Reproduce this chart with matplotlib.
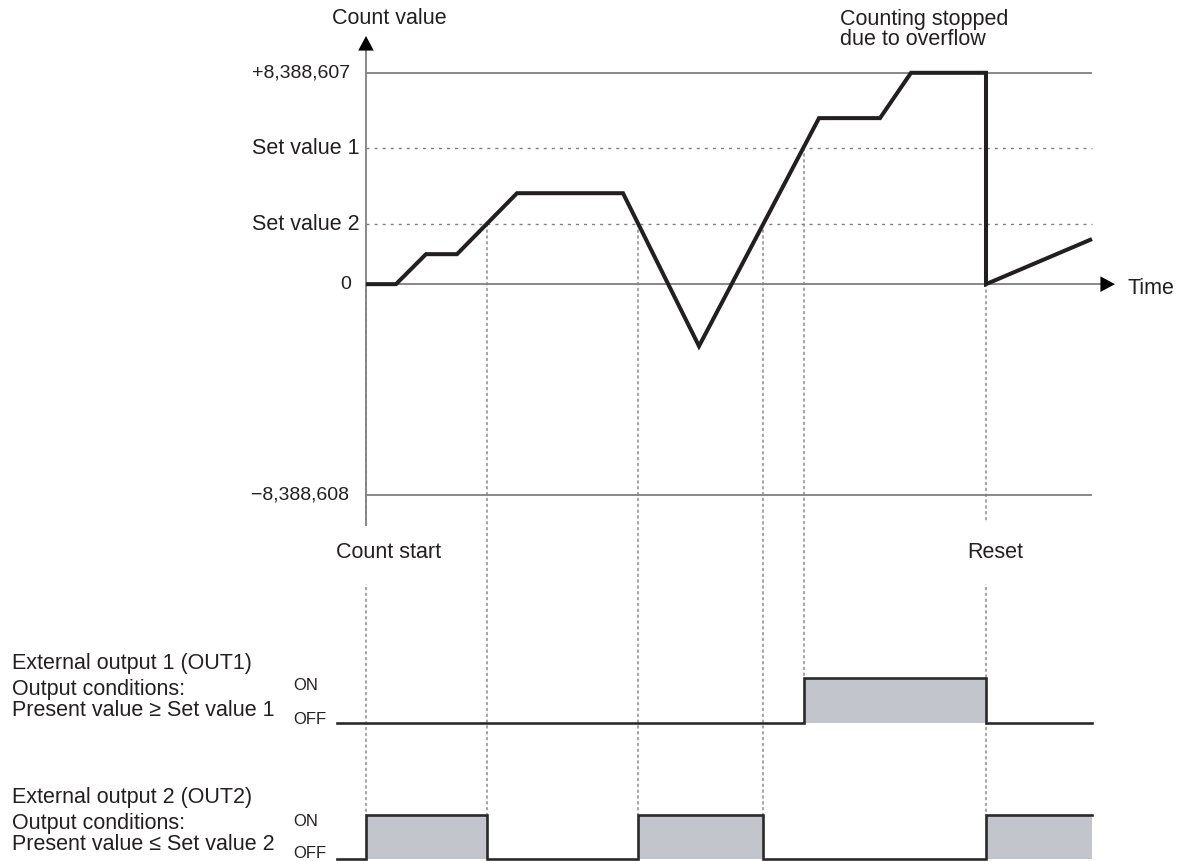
import matplotlib
matplotlib.use("Agg")
import matplotlib.pyplot as plt
from matplotlib.patches import ConnectionPatch

plt.rcParams['font.family'] = ['Liberation Sans', 'DejaVu Sans']
plt.rcParams['lines.scale_dashes'] = False

# ---------------- data ----------------
COUNT_MAX = 8388607
COUNT_MIN = -8388608
SET_VALUE_1 = 5400000
SET_VALUE_2 = 2380000

# count curve (time in arbitrary units, count value)
curve_t = [0, 30, 60, 91, 151, 257, 333, 453, 514, 545, 620, 620, 726]
curve_v = [0, 0, 1190000, 1190000, 3610000, 3610000, -2460000, 6590000,
           6590000, COUNT_MAX, COUNT_MAX, 0, 1790000]

# outputs (steps-post)
out1_t = [-29, 438, 620, 726]
out1_s = [0, 1, 0, 0]
out2_t = [-29, 0, 121, 272, 397, 620, 726]
out2_s = [0, 1, 0, 1, 0, 1, 1]

# event markers: time, top count value, panel where it ends
event_t = [0, 121, 272, 397, 438, 620]
event_top = [0, SET_VALUE_2, SET_VALUE_2, SET_VALUE_2, SET_VALUE_1, 0]
event_panel = [2, 2, 2, 2, 1, 2]

tick_values = [COUNT_MAX, SET_VALUE_1, SET_VALUE_2, 0, COUNT_MIN]
tick_labels = ['+8,388,607', 'Set value 1', 'Set value 2', '0', '\u22128,388,608']
tick_sizes = [14, 15.5, 15.5, 14, 14]
tick_offsets = [-16, -6, -6, -15, -17]

T_END = 726
T_ARROW = 749
T_LEFT = -29

# ---------------- style ----------------
W, H = 1187, 861
TXT = '#231f20'
CURVE = '#231f20'
GRID = '#808080'
FILL = '#c3c5cc'
STEP = '#2a2a2a'
FS = 15.5


def box(l, t, r, b):
    return [l / W, 1 - b / H, (r - l) / W, (b - t) / H]


def fx(x):
    return x / W


def fy(y):
    return 1 - y / H


fig = plt.figure(figsize=(W / 100, H / 100), dpi=100)
fig.patch.set_facecolor('white')

# main axes
ax = fig.add_axes(box(337, 36, 1115, 526))
ax.set_xlim(T_LEFT, T_ARROW)
ax.set_ylim(-9.6e6, 9.85e6)
ax.axis('off')
ax.set_zorder(2)
ax.patch.set_visible(False)

ARROW = dict(arrowstyle='-|>,head_length=0.75,head_width=0.4',
             color='black', lw=0, shrinkA=0, shrinkB=0, mutation_scale=14)

# y axis line + arrow
ax.plot([0, 0], [-9.6e6, 9.4e6], color=GRID, lw=1.3, solid_capstyle='butt')
ax.annotate('', xy=(0, 1), xycoords=('data', 'axes fraction'),
            xytext=(0, -30), textcoords='offset pixels', arrowprops=ARROW)
# time axis line + arrow
ax.plot([0, T_ARROW - 10], [0, 0], color=GRID, lw=1.3, clip_on=False,
        solid_capstyle='butt')
ax.annotate('', xy=(1, 0), xycoords=('axes fraction', 'data'),
            xytext=(-30, 0), textcoords='offset pixels', arrowprops=ARROW)

# limit lines
ax.hlines([COUNT_MAX, COUNT_MIN], 0, T_END, color=GRID, lw=1.3)
ax.hlines([SET_VALUE_1, SET_VALUE_2], 0, T_END, color=GRID, lw=1.0,
          linestyles=[(0, (2.2, 3.6))])

# curve
ax.plot(curve_t, curve_v, color=CURVE, lw=2.9, solid_joinstyle='miter',
        solid_capstyle='butt', zorder=5)

# tick labels
for v, lab, s, off in zip(tick_values, tick_labels, tick_sizes, tick_offsets):
    ax.annotate(lab, xy=(0, v), xycoords='data', xytext=(off, 0),
                textcoords='offset pixels', ha='right', va='center',
                fontsize=s, color=TXT)

# output panels
ax1 = fig.add_axes(box(337, 669, 1115, 732))
ax2 = fig.add_axes(box(337, 806.2, 1115, 860.8))
ax1.set_ylim(-0.2, 1.2)
ax2.set_ylim(-0.04, 1.2)
for a, t, s in ((ax1, out1_t, out1_s), (ax2, out2_t, out2_s)):
    a.set_xlim(T_LEFT, T_ARROW)
    a.axis('off')
    a.set_zorder(2)
    a.patch.set_visible(False)
    a.fill_between(t, s, 0, step='post', color=FILL, lw=0)
    a.step(t, s, where='post', color=STEP, lw=1.9, solid_joinstyle='miter',
           clip_on=False)

# event dotted lines
for t, top, p in zip(event_t, event_top, event_panel):
    target = ax1 if p == 1 else ax2
    con = ConnectionPatch(xyA=(t, top), coordsA=ax.transData,
                          xyB=(t, 1), coordsB=target.transData,
                          color=GRID, lw=1.0, linestyle=(0, (1.6, 2.6)),
                          zorder=1)
    fig.add_artist(con)

# texts
fig.text(fx(389), fy(18), 'Count value', ha='center', va='center',
         fontsize=FS, color=TXT)
fig.text(fx(840), fy(29.5), 'Counting stopped\ndue to overflow', ha='left',
         va='center', fontsize=FS, color=TXT, linespacing=0.95)
fig.text(fx(1128), fy(289), 'Time', ha='left', va='center', fontsize=FS,
         color=TXT)
for x, lab in ((389, 'Count start'), (995, 'Reset')):
    fig.text(fx(x), fy(553), lab, ha='center', va='center', fontsize=FS,
             color=TXT, zorder=1.5,
             bbox=dict(boxstyle='square,pad=0.95', fc='white', ec='none'))

left_lines = [
    (663, 'External output 1 (OUT1)'),
    (690, 'Output conditions:'),
    (711, 'Present value \u2265 Set value 1'),
    (797, 'External output 2 (OUT2)'),
    (824, 'Output conditions:'),
    (845, 'Present value \u2264 Set value 2'),
]
for y, lab in left_lines:
    fig.text(fx(12), fy(y), lab, ha='left', va='center', fontsize=FS,
             color=TXT)

for y, lab in ((685, 'ON'), (720, 'OFF'), (822, 'ON'), (853, 'OFF')):
    fig.text(fx(293), fy(y), lab, ha='left', va='center', fontsize=12,
             color=TXT)

fig.savefig('out.png', dpi=100, facecolor='white')
